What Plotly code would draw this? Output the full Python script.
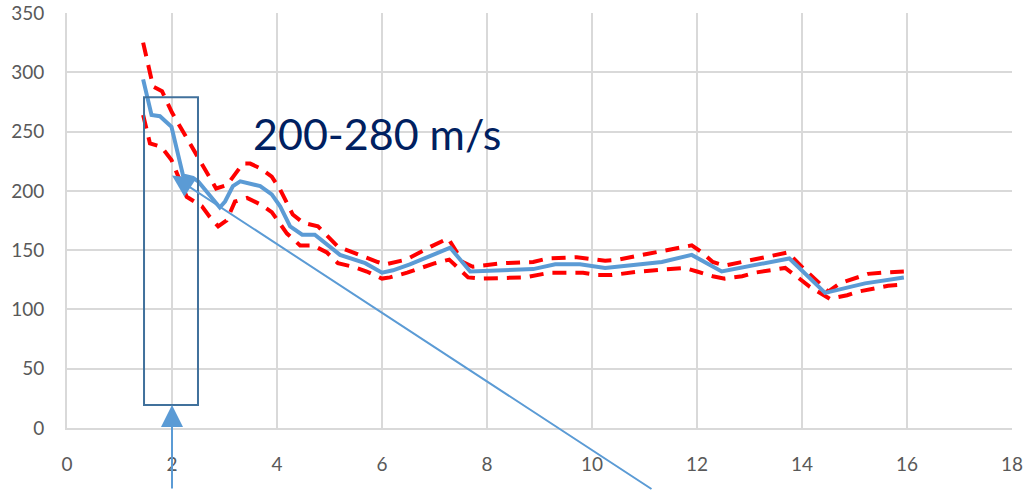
import plotly.graph_objects as go

# Mean speed (blue solid)
mean_x = [1.45, 1.61, 1.77, 1.99, 2.21, 2.40, 2.50, 2.91, 3.01, 3.16, 3.30, 3.68, 3.90, 4.06, 4.25,
          4.48, 4.72, 5.20, 5.68, 6.00, 6.21, 6.53, 7.30, 7.68, 8.88, 9.01, 9.30, 9.77, 10.25, 11.33,
          11.90, 12.47, 13.76, 14.44, 15.20, 15.94]
mean_y = [294, 264, 263, 254, 213, 211, 208, 186, 191, 204, 208, 204, 197, 187, 170,
          163, 163, 146, 139, 131, 133, 138, 152, 132, 134, 135, 138, 138, 135, 140,
          146, 132, 143, 114, 122, 127]

# Upper bound (red dashed)
upper_x = [1.45, 1.64, 1.81, 2.00, 2.84, 3.05, 3.35, 3.49, 3.68, 3.90, 4.06, 4.30, 4.50, 4.78,
           5.16, 5.45, 5.70, 5.92, 6.06, 6.46, 6.93, 7.26, 7.54, 7.73, 8.30, 8.88, 9.16, 9.71,
           10.25, 10.50, 11.07, 11.62, 11.90, 12.10, 12.30, 12.53, 12.86, 13.73, 14.02, 14.50,
           14.72, 14.97, 15.26, 15.52, 15.94]
upper_y = [325, 288, 284, 266, 202, 205, 223, 223, 219, 212, 201, 180, 173, 170,
           153, 148, 143, 140, 138, 142, 153, 160, 140, 136, 139, 140, 143, 144,
           141, 142, 147, 152, 154, 148, 140, 137, 140, 148, 135, 115,
           122, 126, 130, 131, 132]

# Lower bound (red dashed)
lower_x = [1.45, 1.58, 1.80, 1.99, 2.28, 2.57, 2.72, 2.88, 3.04, 3.20, 3.43, 3.71, 3.90, 4.19,
           4.44, 4.69, 4.95, 5.16, 5.45, 5.71, 6.00, 6.15, 6.48, 7.01, 7.28, 7.64, 7.87, 8.72,
           9.20, 9.83, 10.11, 10.38, 10.91, 11.77, 12.00, 12.30, 12.53, 12.86, 13.10, 13.68,
           13.92, 14.15, 14.53, 14.86, 15.07, 15.39, 15.64, 15.94]
lower_y = [264, 240, 237, 226, 195, 187, 178, 170, 175, 191, 194, 188, 182, 164,
           154, 154, 148, 139, 136, 132, 126, 127, 131, 139, 142, 127, 126, 127,
           131, 131, 129, 129, 132, 135, 132, 128, 126, 128, 131, 135,
           127, 119, 109, 112, 115, 118, 120, 121]

x_ticks = [0, 2, 4, 6, 8, 10, 12, 14, 16, 18]
y_ticks = [0, 50, 100, 150, 200, 250, 300, 350]

label_text = "200-280 m/s"
box_x = [1.467, 2.495]
box_y = [19.4, 279]

RED = "#FF0000"
BLUE = "#5B9BD5"
GRID = "#D9D9D9"
FONT = "Lato"

fig = go.Figure()
for xs, ys in [(upper_x, upper_y), (lower_x, lower_y)]:
    fig.add_trace(go.Scatter(x=xs, y=ys, mode="lines",
                             line=dict(color=RED, width=4, dash="14px,9px"),
                             showlegend=False, hoverinfo="skip"))
fig.add_trace(go.Scatter(x=mean_x, y=mean_y, mode="lines",
                         line=dict(color=BLUE, width=4),
                         showlegend=False, hoverinfo="skip"))

fig.add_shape(type="rect", xref="x", yref="y",
              x0=box_x[0], x1=box_x[1], y0=box_y[0], y1=box_y[1],
              line=dict(color="#41719C", width=2), fillcolor="rgba(0,0,0,0)")

# vertical arrow pointing up to the box
fig.add_annotation(x=2.0, y=box_y[0], xref="x", yref="y", text="",
                   showarrow=True, ax=0, ay=90, arrowhead=2, arrowsize=2.2,
                   arrowwidth=2, arrowcolor=BLUE, standoff=0)
# diagonal arrow
fig.add_annotation(x=2.0, y=213, xref="x", yref="y", text="",
                   showarrow=True, ax=481, ay=315, arrowhead=2, arrowsize=2.2,
                   arrowwidth=2, arrowcolor=BLUE, standoff=0)

fig.add_annotation(x=5.9, y=248, xref="x", yref="y", text=label_text,
                   showarrow=False, font=dict(family=FONT, size=43, color="#002060"),
                   xanchor="center", yanchor="middle")

axis_common = dict(showgrid=True, gridcolor=GRID, gridwidth=2, zeroline=False,
                   showline=True, linecolor=GRID, linewidth=2, ticks="", automargin=False,
                   ticklabeloverflow="allow",
                   tickfont=dict(family=FONT, size=19, color="#595959"))
fig.update_xaxes(range=[0, 18], tickvals=x_ticks, ticklabelstandoff=18, **axis_common)
fig.update_yaxes(range=[0, 350], tickvals=y_ticks, ticklabelstandoff=17, **axis_common)

fig.update_layout(width=1026, height=490,
                  margin=dict(l=67, r=14, t=13, b=62),
                  plot_bgcolor="white", paper_bgcolor="white")

# remove the default 8px page margin so the figure fills the window exactly
fig.write_html("out.html", config={"displayModeBar": False},
               post_script="document.body.style.margin='0px';")
